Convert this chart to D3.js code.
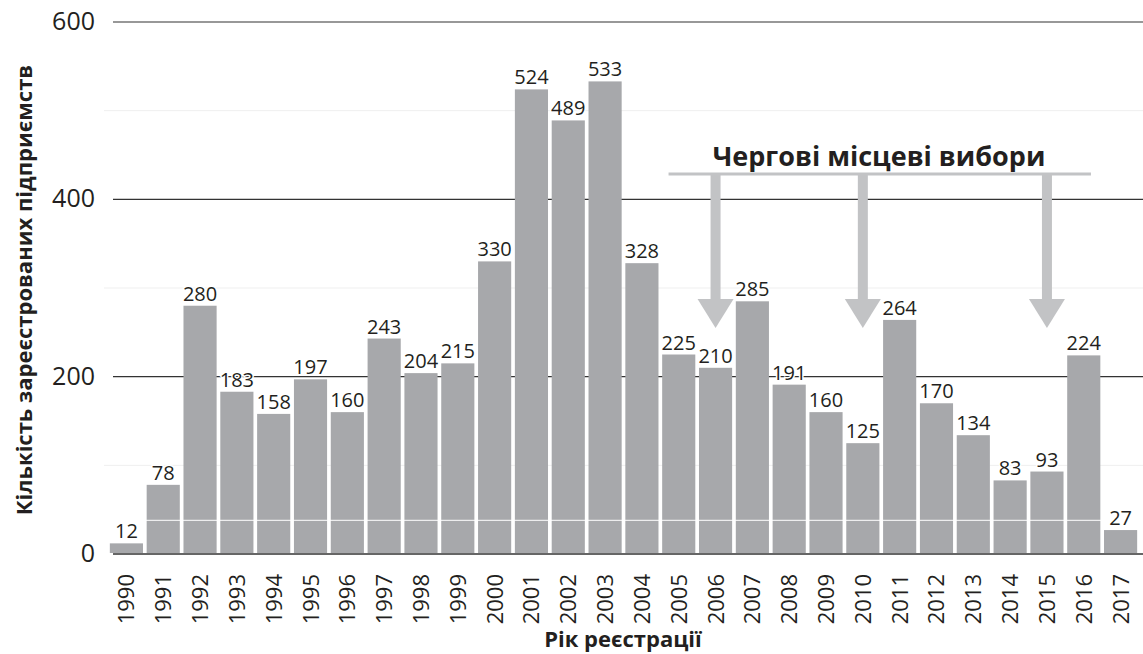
<!DOCTYPE html>
<html>
<head>
<meta charset="utf-8">
<script src="https://cdn.jsdelivr.net/npm/d3@7"></script>
<style>
  body { margin: 0; background: #fff; }
  text { font-family: "Open Sans", sans-serif; fill: #231f20; }
</style>
</head>
<body>
<div class="svg"></div>
<script>
var years = ["1990","1991","1992","1993","1994","1995","1996","1997","1998","1999",
             "2000","2001","2002","2003","2004","2005","2006","2007","2008","2009",
             "2010","2011","2012","2013","2014","2015","2016","2017"];
var counts = [12,78,280,183,158,197,160,243,204,215,330,524,489,533,328,225,210,285,191,160,125,264,170,134,83,93,224,27];
var majorTicks = [0,200,400,600];
var minorTicks = [100,300,500];
var electionYears = ["2006","2010","2015"];
var yTitle = "Кількість зареєстрованих підприємств";
var xTitle = "Рік реєстрації";
var noteText = "Чергові місцеві вибори";

var width = 1143, height = 654;
var data = years.map(function(y, i){ return {year: y, value: counts[i]}; });

var svg = d3.select("div.svg").append("svg")
    .attr("width", width)
    .attr("height", height);

var x = d3.scaleBand()
    .domain(years)
    .range([108, 1139])
    .paddingInner(0.1)
    .paddingOuter(0.05);

var y = d3.scaleLinear()
    .domain([0, 600])
    .range([554, 22]);

// faint minor grid
svg.append("g").selectAll("line")
    .data(minorTicks)
    .enter().append("line")
    .attr("x1", 104).attr("x2", width)
    .attr("y1", d => y(d)).attr("y2", d => y(d))
    .attr("stroke", "#efefef").attr("stroke-width", 1);

// major grid
svg.append("g").selectAll("line")
    .data(majorTicks)
    .enter().append("line")
    .attr("x1", 113).attr("x2", width)
    .attr("y1", d => y(d)).attr("y2", d => y(d))
    .attr("stroke", "#333").attr("stroke-width", d => d === 0 ? 1.6 : 1.2);

// y tick labels
svg.append("g").selectAll("text")
    .data(majorTicks)
    .enter().append("text")
    .attr("x", 95)
    .attr("y", d => y(d) + 8)
    .attr("text-anchor", "end")
    .style("font-size", "25px")
    .text(d => d);

// bars
svg.append("g").selectAll("rect")
    .data(data)
    .enter().append("rect")
    .attr("x", d => x(d.year))
    .attr("y", d => y(d.value))
    .attr("width", x.bandwidth())
    .attr("height", d => y(0) - y(d.value) - 1)
    .attr("fill", "#a7a8ab");

// white line across bars
svg.append("line")
    .attr("x1", x(years[0])).attr("x2", x(years[years.length-1]) + x.bandwidth())
    .attr("y1", y(38)).attr("y2", y(38))
    .attr("stroke", "#fff").attr("stroke-width", 1.2).attr("opacity", 0.8);

// value labels
svg.append("g").selectAll("text")
    .data(data)
    .enter().append("text")
    .attr("x", d => x(d.year) + x.bandwidth() / 2)
    .attr("y", d => y(d.value) - 5)
    .attr("text-anchor", "middle")
    .style("font-size", "20px")
    .attr("stroke", "#fff").attr("stroke-width", 3)
    .attr("paint-order", "stroke")
    .text(d => d.value);

// year labels
svg.append("g").selectAll("text")
    .data(years)
    .enter().append("text")
    .attr("transform", d => `translate(${x(d) + x.bandwidth() / 2 + 8},574) rotate(-90)`)
    .attr("text-anchor", "end")
    .style("font-size", "22px")
    .text(d => d);

// axis titles
svg.append("text")
    .attr("transform", "translate(32,290) rotate(-90)")
    .attr("text-anchor", "middle")
    .style("font-size", "22px")
    .style("font-weight", "bold")
    .text(yTitle);

svg.append("text")
    .attr("x", 623).attr("y", 647)
    .attr("text-anchor", "middle")
    .style("font-size", "22px")
    .style("font-weight", "bold")
    .text(xTitle);

// election annotation
var ax = electionYears.map(d => x(d) + x.bandwidth() / 2);
var arrowColor = "#c2c3c5";
svg.append("line")
    .attr("x1", ax[0] - 47).attr("x2", ax[ax.length-1] + 44)
    .attr("y1", 174).attr("y2", 174)
    .attr("stroke", arrowColor).attr("stroke-width", 3);

var arrows = svg.append("g").selectAll("g")
    .data(ax)
    .enter().append("g");
arrows.append("rect")
    .attr("x", d => d - 5).attr("y", 174)
    .attr("width", 10).attr("height", 126)
    .attr("fill", arrowColor);
arrows.append("path")
    .attr("d", d => `M${d-18},299 L${d+18},299 L${d},328 Z`)
    .attr("fill", arrowColor);

svg.append("text")
    .attr("x", 879).attr("y", 166)
    .attr("text-anchor", "middle")
    .style("font-size", "27px")
    .style("font-weight", "bold")
    .text(noteText);
</script>
</body>
</html>
